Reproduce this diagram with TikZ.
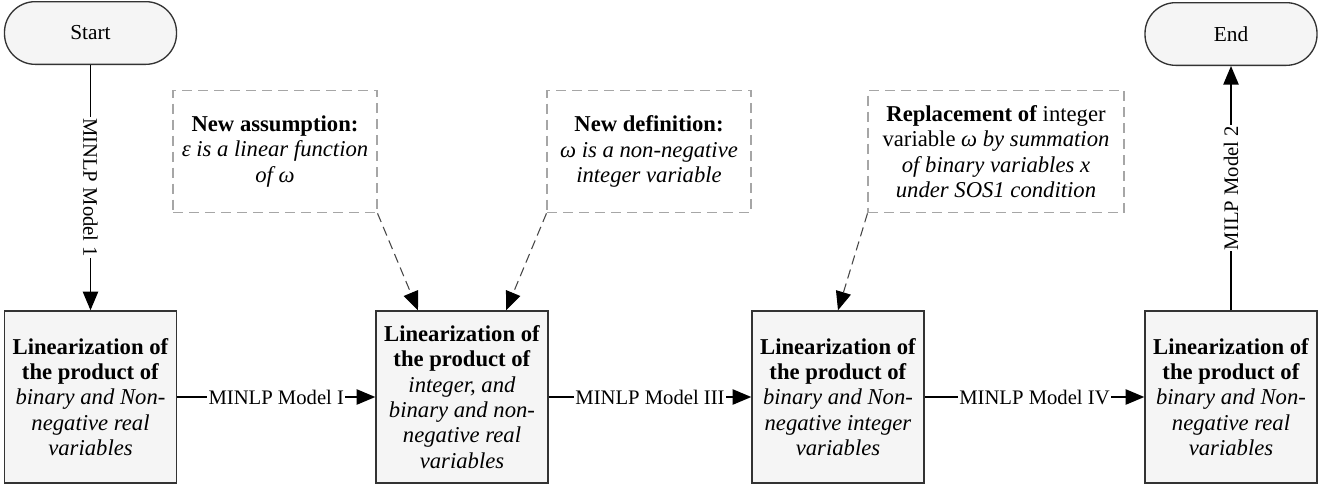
\documentclass[tikz,border=0pt]{standalone}
\usepackage{fontspec}
\setmainfont{Liberation Serif}
\usetikzlibrary{arrows.meta,calc}
\begin{document}
\begin{tikzpicture}[x=0.75pt,y=-0.75pt,
  font=\fontsize{17}{19}\selectfont,
  proc/.style={draw=black!80, fill=gray!8, line width=1.1pt, minimum width=129pt, minimum height=129pt, align=center, inner sep=0pt},
  term/.style={draw=black!80, fill=gray!8, line width=1pt, rounded corners=23pt, minimum width=129pt, minimum height=47pt},
  note/.style={draw=gray!70, dash pattern=on 7.5pt off 4.5pt, line width=0.8pt, align=center, minimum height=92pt, inner sep=0pt},
  flow/.style={line width=1.1pt, -{Triangle[length=14pt,width=11.5pt]}},
  dflow/.style={draw=gray!55!black, line width=0.8pt, dash pattern=on 7pt off 4pt, -{Triangle[length=14pt,width=11.5pt,color=black]}},
  lab/.style={fill=white, inner sep=1pt, font=\fontsize{15.5}{18}\selectfont}
]
\useasboundingbox (0,0) rectangle (1331,489);

\node[term, font=\fontsize{16}{19}\selectfont] (start) at (90.5,33) {Start};
\node[term, font=\fontsize{16}{19}\selectfont] (end) at (1231,34) {End};

\node[proc] (b1) at (90.5,397) {\textbf{Linearization of}\\\textbf{the product of}\\\textit{binary and Non-}\\\textit{negative real}\\\textit{variables}};
\node[proc] (b2) at (462,397) {\textbf{Linearization of}\\\textbf{the product of}\\\textit{integer, and}\\\textit{binary and non-}\\\textit{negative real}\\\textit{variables}};
\node[proc] (b3) at (838,397) {\textbf{Linearization of}\\\textbf{the product of}\\\textit{binary and Non-}\\\textit{negative integer}\\\textit{variables}};
\node[proc] (b4) at (1231,397) {\textbf{Linearization of}\\\textbf{the product of}\\\textit{binary and Non-}\\\textit{negative real}\\\textit{variables}};

\node[note, minimum width=153pt] (n1) at (275,151.5) {\textbf{New assumption:}\\\textit{ε is a linear function}\\\textit{of ω}};
\node[note, minimum width=153pt] (n2) at (649,151.5) {\textbf{New definition:}\\\textit{ω is a non-negative}\\\textit{integer variable}};
\node[note, minimum width=192pt] (n3) at (996,151.5) {\textbf{Replacement of} integer\\variable \textit{ω by summation}\\\textit{of binary variables x}\\\textit{under SOS1 condition}};

\coordinate (t1) at ($(b2.north)+(-44,0)$);
\coordinate (t2) at ($(b2.north)+(44,0)$);

\draw[flow] (start) -- node[lab, rotate=-90] {MINLP Model 1} (b1);
\draw[flow] (b1) -- node[lab] {MINLP Model I} (b2);
\draw[flow] (b2) -- node[lab] {MINLP Model III} (b3);
\draw[flow] (b3) -- node[lab] {MINLP Model IV} (b4);
\draw[flow] (b4) -- node[lab, rotate=90] {MILP Model 2} (end);

\draw[dflow] (n1.south east) -- (t1);
\draw[dflow] (n2.south west) -- (t2);
\draw[dflow] (n3.south west) -- (b3.north);
\end{tikzpicture}
\end{document}
